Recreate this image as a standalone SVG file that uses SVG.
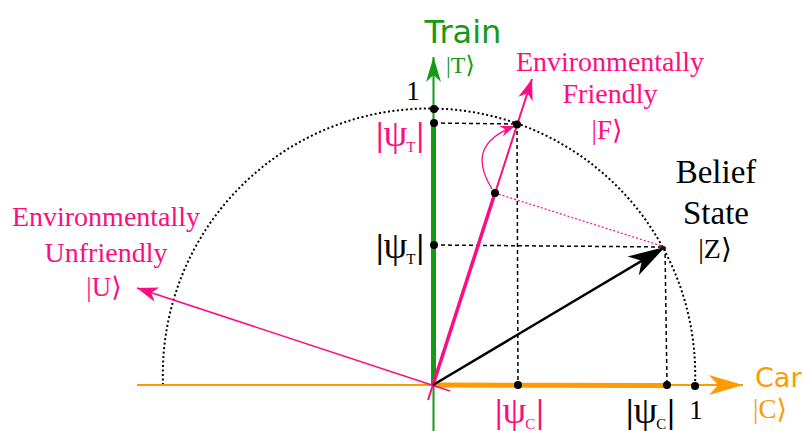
<svg xmlns="http://www.w3.org/2000/svg" width="803" height="431" viewBox="0 0 803 431">
<style>
.serif{font-family:"Liberation Serif","DejaVu Serif",serif}
.sans{font-family:"DejaVu Sans","Liberation Sans",sans-serif}
.pink{fill:#ff0d80}
.green{fill:#149a14}
.orange{fill:#ff9a00}
.blk{fill:#000}
.dash{stroke:#000;stroke-width:1.5;stroke-dasharray:4 3;fill:none}
.dot{fill:#000}
.bar{font-weight:bold}
.psi{font-size:38px}
.sub{font-size:15px}
</style>
<defs>
<marker id="hGreen" markerUnits="userSpaceOnUse" markerWidth="1" markerHeight="1" refX="0" refY="0" orient="auto" overflow="visible"><path d="M0,0 L-25,-7.5 L-18,0 L-25,7.5 Z" fill="#149a14"/></marker>
<marker id="hOrange" markerUnits="userSpaceOnUse" markerWidth="1" markerHeight="1" refX="0" refY="0" orient="auto" overflow="visible"><path d="M0,0 L-34,-10 L-25,0 L-34,10 Z" fill="#ff9a00"/></marker>
<marker id="hBlack" markerUnits="userSpaceOnUse" markerWidth="1" markerHeight="1" refX="0" refY="0" orient="auto" overflow="visible"><path d="M0,0 L-37,-11 L-27,0 L-37,11 Z" fill="#000"/></marker>
<marker id="hPink" markerUnits="userSpaceOnUse" markerWidth="1" markerHeight="1" refX="0" refY="0" orient="auto" overflow="visible"><path d="M0,0 L-21,-7.5 L-15,0 L-21,7.5 Z" fill="#ff0d80"/></marker>
<marker id="hPinkS" markerUnits="userSpaceOnUse" markerWidth="1" markerHeight="1" refX="0" refY="0" orient="auto" overflow="visible"><path d="M0,0 L-15,-5.5 L-10,0 L-15,5.5 Z" fill="#ff0d80"/></marker>
</defs>

<g id="circle">
<path d="M163,385 A266.2,266.2 0 1 1 695,385" fill="none" stroke="#000" stroke-width="2" stroke-dasharray="2 2.5"/>
</g>

<g id="connectors">
<line class="dash" x1="434" y1="123" x2="517" y2="124"/>
<line class="dash" x1="517" y1="124" x2="518" y2="385"/>
<line class="dash" x1="434" y1="245" x2="665" y2="247"/>
<line class="dash" x1="665" y1="247" x2="667" y2="385"/>
<line x1="495" y1="193" x2="665" y2="247" stroke="#ff0d80" stroke-width="1.2" stroke-dasharray="2 2"/>
<line x1="137" y1="385" x2="743" y2="385" stroke="#ff9a00" stroke-width="2" marker-end="url(#hOrange)"/>
<line x1="433" y1="385" x2="667" y2="385.5" stroke="#ff9a00" stroke-width="5"/>
<line x1="433.5" y1="431" x2="433.5" y2="57" stroke="#149a14" stroke-width="2" marker-end="url(#hGreen)"/>
<line x1="433.5" y1="385" x2="433.5" y2="123" stroke="#149a14" stroke-width="5"/>
<line x1="450" y1="391" x2="137" y2="288" stroke="#ff0d80" stroke-width="1.6" marker-end="url(#hPink)"/>
<line x1="428" y1="400" x2="532" y2="79" stroke="#ff0d80" stroke-width="2" marker-end="url(#hPink)"/>
<line x1="433" y1="385" x2="495" y2="193" stroke="#ff0d80" stroke-width="3.5"/>
<line x1="433" y1="385" x2="665" y2="247" stroke="#000" stroke-width="2.5" marker-end="url(#hBlack)"/>
<path d="M492,189 C479,168 472,142 515,126" fill="none" stroke="#ff0d80" stroke-width="1.3" marker-end="url(#hPinkS)"/>
</g>

<g id="points">
<circle class="dot" cx="434" cy="109" r="4"/>
<circle class="dot" cx="434" cy="123" r="4"/>
<circle class="dot" cx="517" cy="124.5" r="4"/>
<circle class="dot" cx="495" cy="193" r="4"/>
<circle class="dot" cx="434" cy="245" r="4"/>
<circle class="dot" cx="518" cy="385" r="4"/>
<circle class="dot" cx="667" cy="385" r="4"/>
<circle class="dot" cx="695" cy="386" r="4"/>
</g>

<g id="train-label">
<text class="sans green" x="463" y="43" font-size="32" text-anchor="middle">Train</text>
<text class="serif green" x="446" y="73" font-size="24">|T⟩</text>
</g>
<g id="one-top"><text class="serif blk" x="413" y="100" font-size="27" text-anchor="middle">1</text></g>
<g id="friendly-label">
<text class="serif pink" x="610" y="71" font-size="28" text-anchor="middle">Environmentally</text>
<text class="serif pink" x="610" y="103" font-size="28" text-anchor="middle">Friendly</text>
<text class="serif pink" x="607" y="139" font-size="27" text-anchor="middle">|F⟩</text>
</g>
<g id="belief-label">
<text class="serif blk" x="716" y="183" font-size="33" text-anchor="middle">Belief</text>
<text class="serif blk" x="716" y="224" font-size="33" text-anchor="middle">State</text>
<text class="serif blk" x="715" y="258" font-size="28" text-anchor="middle">|Z⟩</text>
</g>
<g id="unfriendly-label">
<text class="serif pink" x="106" y="226" font-size="28" text-anchor="middle">Environmentally</text>
<text class="serif pink" x="106" y="262" font-size="28" text-anchor="middle">Unfriendly</text>
<text class="serif pink" x="104" y="296" font-size="27" text-anchor="middle">|U⟩</text>
</g>
<g id="car-label">
<text class="sans orange" x="755" y="387" font-size="27">Car</text>
<text class="serif orange" x="753" y="418" font-size="27">|C⟩</text>
</g>
<g id="one-bottom"><text class="serif blk" x="696" y="419" font-size="27" text-anchor="middle">1</text></g>

<g id="psiT-pink"><text class="serif pink" x="376" y="146" font-size="34"><tspan class="bar">|</tspan><tspan class="psi">ψ</tspan><tspan class="sub" dx="-1" dy="6">T</tspan><tspan class="bar" dx="1" dy="-6">|</tspan></text></g>
<g id="psiT-black"><text class="serif blk" x="376" y="258" font-size="34"><tspan class="bar">|</tspan><tspan class="psi">ψ</tspan><tspan class="sub" dx="-1" dy="6">T</tspan><tspan class="bar" dx="1" dy="-6">|</tspan></text></g>
<g id="psiC-pink"><text class="serif pink" x="495" y="423" font-size="34"><tspan class="bar">|</tspan><tspan class="psi">ψ</tspan><tspan class="sub" dx="-1" dy="6">C</tspan><tspan class="bar" dx="1" dy="-6">|</tspan></text></g>
<g id="psiC-black"><text class="serif blk" x="626" y="423" font-size="34"><tspan class="bar">|</tspan><tspan class="psi">ψ</tspan><tspan class="sub" dx="-1" dy="6">C</tspan><tspan class="bar" dx="1" dy="-6">|</tspan></text></g>
</svg>
